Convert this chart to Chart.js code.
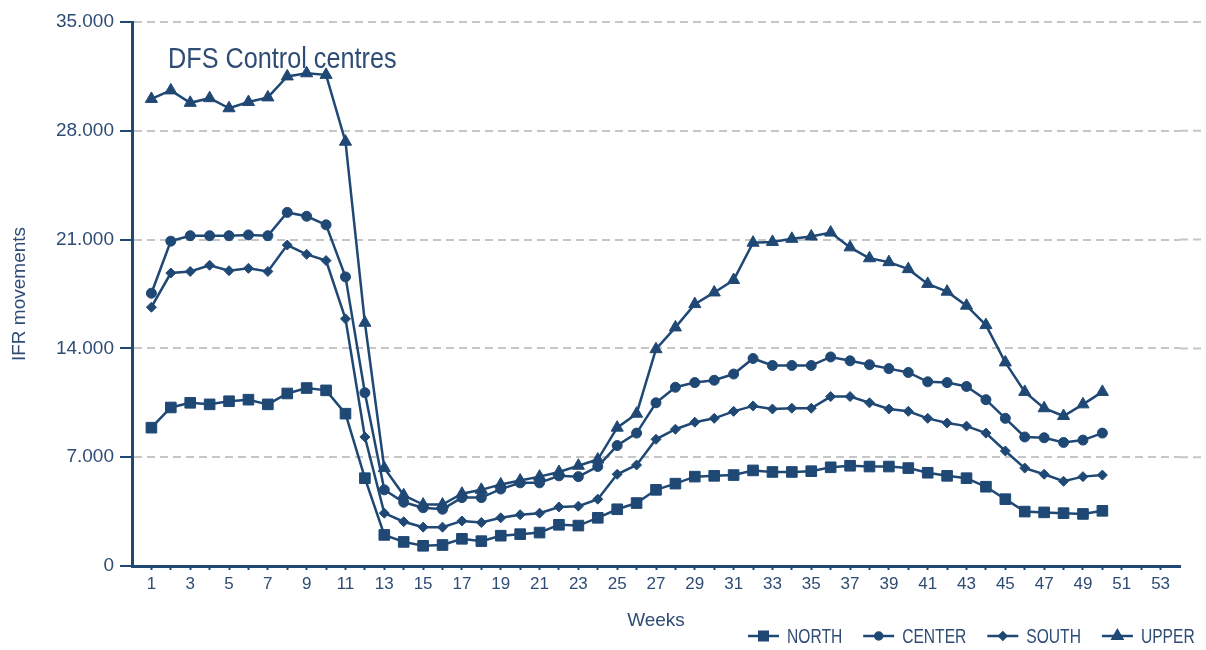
<!DOCTYPE html>
<html>
<head>
<meta charset="utf-8">
<script src="https://cdn.jsdelivr.net/npm/chart.js@4"></script>
<style>
  html, body { margin: 0; padding: 0; background: #fff; }
  #wrap { width: 1206px; height: 650px; }
</style>
</head>
<body>
<div id="wrap"><canvas id="ifrChart" width="1206" height="650"></canvas></div>
<script>
// Weekly IFR movements per DFS control centre
const weeks = [1, 2, 3, 4, 5, 6, 7, 8, 9, 10, 11, 12, 13, 14, 15, 16, 17, 18, 19, 20,
  21, 22, 23, 24, 25, 26, 27, 28, 29, 30, 31, 32, 33, 34, 35, 36, 37, 38, 39, 40,
  41, 42, 43, 44, 45, 46, 47, 48, 49, 50];

const north = [8900, 10200, 10500, 10400, 10600, 10700, 10400, 11100, 11450, 11300,
  9800, 5650, 2000, 1550, 1300, 1350, 1750, 1600, 1950, 2050,
  2150, 2650, 2600, 3100, 3650, 4050, 4900, 5300, 5750, 5800,
  5850, 6150, 6050, 6050, 6100, 6350, 6450, 6400, 6400, 6300,
  6000, 5800, 5650, 5100, 4300, 3500, 3450, 3400, 3350, 3550];

const center = [17550, 20900, 21250, 21250, 21250, 21300, 21250, 22750, 22500, 21950,
  18600, 11150, 4900, 4100, 3750, 3650, 4400, 4400, 4950, 5350,
  5350, 5800, 5750, 6400, 7750, 8550, 10500, 11500, 11800, 11950,
  12350, 13350, 12900, 12900, 12900, 13450, 13200, 12950, 12700, 12450,
  11850, 11800, 11550, 10700, 9500, 8300, 8250, 7950, 8100, 8550];

const south = [16650, 18850, 18950, 19350, 19000, 19150, 18950, 20650, 20050, 19650,
  15900, 8300, 3400, 2850, 2500, 2500, 2900, 2800, 3100, 3300,
  3400, 3800, 3850, 4300, 5900, 6500, 8150, 8800, 9250, 9500,
  9950, 10300, 10100, 10150, 10150, 10900, 10900, 10500, 10100, 9950,
  9500, 9200, 9000, 8550, 7400, 6300, 5900, 5450, 5750, 5850];

const upper = [30050, 30600, 29800, 30100, 29450, 29850, 30150, 31500, 31700, 31600,
  27300, 15650, 6300, 4550, 3950, 3950, 4650, 4900, 5250, 5500,
  5750, 6050, 6450, 6850, 8900, 9800, 13950, 15350, 16850, 17600,
  18400, 20800, 20850, 21050, 21200, 21450, 20500, 19800, 19550, 19100,
  18150, 17650, 16750, 15500, 13100, 11200, 10150, 9650, 10400, 11200];

const yTicks = [0, 7000, 14000, 21000, 28000, 35000];

const NAVY = "#1f4874";
const TEXT = "#2f4c75";
const FONT = "'Liberation Sans', Arial, sans-serif";

function series(label, values, pointStyle, radius) {
  return {
    label: label,
    data: weeks.map((w, i) => ({ x: w, y: values[i] })),
    borderColor: NAVY,
    backgroundColor: NAVY,
    borderWidth: 2.5,
    pointStyle: pointStyle,
    pointRadius: radius,
    pointBorderWidth: 1,
    pointBorderColor: NAVY,
    pointBackgroundColor: NAVY,
    tension: 0,
  };
}

// narrow text: draw with a horizontal squeeze
function narrowText(ctx, text, x, y, squeeze) {
  ctx.save();
  ctx.translate(x, y);
  ctx.scale(squeeze, 1);
  ctx.fillText(text, 0, 0);
  ctx.restore();
  return ctx.measureText(text).width * squeeze;
}

// Title inside the plot + legend at the bottom right
const decorations = {
  id: "decorations",
  afterDraw(chart) {
    const ctx = chart.ctx;
    ctx.save();
    ctx.fillStyle = TEXT;
    ctx.font = "29px " + FONT;
    ctx.textBaseline = "alphabetic";
    ctx.textAlign = "left";
    narrowText(ctx, "DFS Control centres", 168, 68, 0.87);

    ctx.font = "20px " + FONT;
    ctx.textBaseline = "middle";
    let x = 748;
    const y = 636;
    chart.data.datasets.forEach((ds) => {
      ctx.strokeStyle = NAVY;
      ctx.lineWidth = 2.5;
      ctx.beginPath();
      ctx.moveTo(x, y);
      ctx.lineTo(x + 31, y);
      ctx.stroke();
      ctx.fillStyle = NAVY;
      Chart.helpers.drawPoint(ctx, {
        pointStyle: ds.pointStyle,
        radius: Math.max(ds.pointRadius - 1.5, 3.5),
        rotation: 0,
        borderWidth: 1,
      }, x + 15.5, y);
      ctx.fillStyle = TEXT;
      const w = narrowText(ctx, ds.label, x + 39, y + 1, 0.78);
      x += 39 + w + 21;
    });
    ctx.restore();
  },
};

// Dashed grid lines run past the x axis end up to the right edge
const gridExtend = {
  id: "gridExtend",
  beforeDatasetsDraw(chart) {
    const ctx = chart.ctx;
    const yScale = chart.scales.y;
    ctx.save();
    ctx.strokeStyle = "#c6c6c6";
    ctx.lineWidth = 2;
    ctx.setLineDash([8, 5]);
    yTicks.slice(1).forEach((v) => {
      const py = yScale.getPixelForValue(v);
      ctx.beginPath();
      ctx.moveTo(chart.chartArea.right, py);
      ctx.lineTo(chart.width, py);
      ctx.stroke();
    });
    ctx.restore();
  },
};

const ctx = document.getElementById("ifrChart").getContext("2d");
new Chart(ctx, {
  type: "line",
  data: {
    datasets: [
      series("NORTH", north, "rect", 7.5),
      series("CENTER", center, "circle", 5),
      series("SOUTH", south, "rectRot", 5),
      series("UPPER", upper, "triangle", 7),
    ],
  },
  plugins: [gridExtend, decorations],
  options: {
    responsive: false,
    animation: false,
    layout: {
      padding: { top: 22, right: 26, left: 0, bottom: 0 },
    },
    plugins: {
      legend: { display: false },
      tooltip: { enabled: false },
    },
    scales: {
      x: {
        type: "linear",
        min: 0,
        max: 54,
        afterFit(scale) {
          scale.height = 84;
        },
        afterBuildTicks(scale) {
          const t = [];
          for (let v = 1; v <= 53; v++) t.push({ value: v });
          scale.ticks = t;
        },
        ticks: {
          autoSkip: false,
          maxRotation: 0,
          padding: 4,
          color: TEXT,
          font: { family: FONT, size: 17 },
          callback: (v) => (v % 2 === 1 ? String(v) : ""),
        },
        grid: {
          drawOnChartArea: false,
          drawTicks: true,
          tickLength: 4,
          tickWidth: 2,
          tickColor: NAVY,
        },
        border: { display: true, color: NAVY, width: 3 },
        title: {
          display: true,
          text: "Weeks",
          color: TEXT,
          font: { family: FONT, size: 19 },
          padding: { top: 0, bottom: 18 },
        },
      },
      y: {
        min: 0,
        max: 35000,
        afterFit(scale) {
          scale.width = 132;
        },
        afterBuildTicks(scale) {
          scale.ticks = yTicks.map((v) => ({ value: v }));
        },
        ticks: {
          padding: 6,
          color: TEXT,
          font: { family: FONT, size: 19 },
          callback: (v) => (v === 0 ? "0" : v.toLocaleString("de-DE")),
        },
        grid: {
          color: (c) => (c.tick && c.tick.value === 0 ? "rgba(0,0,0,0)" : "#c6c6c6"),
          lineWidth: 2,
          tickLength: 12,
          tickWidth: 2,
          tickColor: NAVY,
          tickBorderDash: [],
        },
        border: { display: true, color: NAVY, width: 3, dash: [8, 5] },
        title: {
          display: true,
          text: "IFR movements",
          color: TEXT,
          font: { family: FONT, size: 19 },
          padding: { top: 8, bottom: 4 },
        },
      },
    },
  },
});
</script>
</body>
</html>
